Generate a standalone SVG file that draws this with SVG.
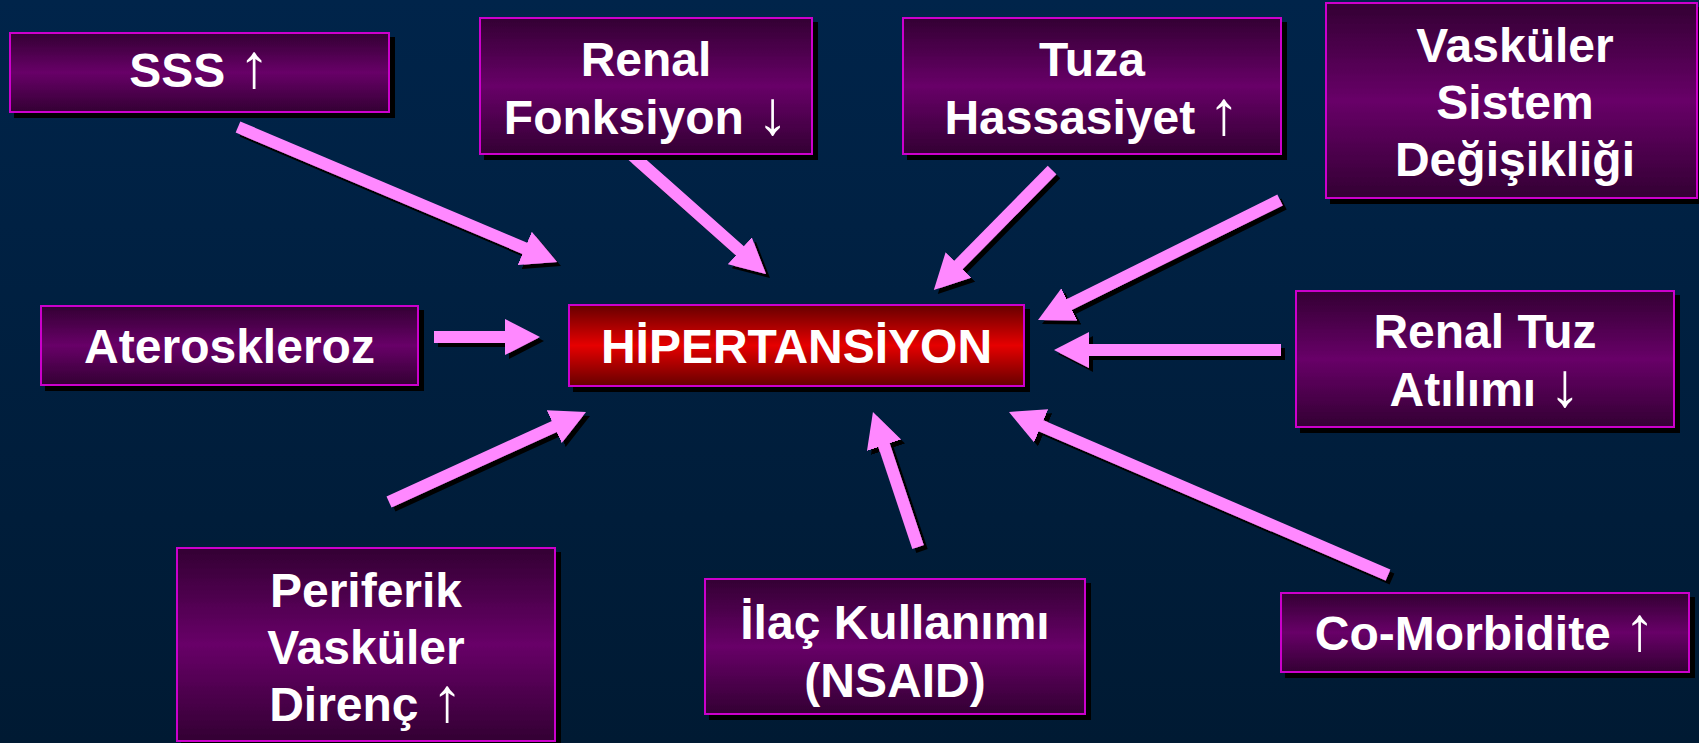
<svg xmlns="http://www.w3.org/2000/svg" width="1699" height="743" viewBox="0 0 1699 743">
<defs>
<style>
.box{fill:url(#purple);stroke:#cc00cc;stroke-width:2;filter:url(#bshadow)}
.red{fill:url(#redg);stroke:#cc00cc;stroke-width:2;filter:url(#bshadow)}
.t{font-family:"Liberation Sans",Arial,sans-serif;font-weight:bold;font-size:48px;fill:#ffffff;text-anchor:middle}
.ar{font-weight:normal;font-size:62px}
.conn{fill:none;stroke:#ff88ff;stroke-width:12;stroke-linecap:butt;marker-end:url(#ah)}
</style>
<linearGradient id="bg" x1="0" y1="0" x2="0" y2="1">
<stop offset="0" stop-color="#00244a"/>
<stop offset="1" stop-color="#001a33"/>
</linearGradient>
<linearGradient id="purple" x1="0" y1="0" x2="0" y2="1">
<stop offset="0" stop-color="#330033"/>
<stop offset="0.5" stop-color="#680068"/>
<stop offset="1" stop-color="#330033"/>
</linearGradient>
<linearGradient id="redg" x1="0" y1="0" x2="0" y2="1">
<stop offset="0" stop-color="#660000"/>
<stop offset="0.5" stop-color="#e60000"/>
<stop offset="1" stop-color="#660000"/>
</linearGradient>
<filter id="bshadow" x="-0.1" y="-0.1" width="1.2" height="1.3">
<feDropShadow dx="5" dy="5" stdDeviation="0" flood-color="#000000" flood-opacity="1"/>
</filter>
<filter id="ashadow" filterUnits="userSpaceOnUse" x="0" y="0" width="1699" height="743">
<feDropShadow dx="4" dy="4" stdDeviation="0" flood-color="#000000" flood-opacity="1"/>
</filter>
<marker id="ah" markerUnits="userSpaceOnUse" markerWidth="35" markerHeight="36" refX="2" refY="18" orient="auto">
<path d="M0,0 L35,18 L0,36 Z" fill="#ff88ff"/>
</marker>
</defs>
<rect x="0" y="0" width="1699" height="743" fill="url(#bg)"/>

<g id="connectors" filter="url(#ashadow)">
<path class="conn" d="M238,127 L526.6,249.1"/>
<path class="conn" d="M632,155 L741.3,252.1"/>
<path class="conn" d="M1052,170 L957,266.4"/>
<path class="conn" d="M1280,200 L1067.6,305.3"/>
<path class="conn" d="M434,337 L507,337"/>
<path class="conn" d="M1281,350 L1087,350"/>
<path class="conn" d="M389,502 L556,425.7"/>
<path class="conn" d="M918,547 L883.4,443.3"/>
<path class="conn" d="M1388,575 L1039.3,425"/>
</g>

<g id="node-sss">
<rect class="box" x="10" y="33" width="379" height="79"/>
<text class="t" x="199.5" y="87">SSS <tspan class="ar">↑</tspan></text>
</g>
<g id="node-renal-fonksiyon">
<rect class="box" x="480" y="18" width="332" height="136"/>
<text class="t" x="646" y="76">Renal</text>
<text class="t" x="646" y="134">Fonksiyon <tspan class="ar">↓</tspan></text>
</g>
<g id="node-tuza">
<rect class="box" x="903" y="18" width="378" height="136"/>
<text class="t" x="1092" y="76">Tuza</text>
<text class="t" x="1092" y="134">Hassasiyet <tspan class="ar">↑</tspan></text>
</g>
<g id="node-vaskuler-sistem">
<rect class="box" x="1326" y="3" width="371" height="195"/>
<text class="t" x="1515" y="62">Vasküler</text>
<text class="t" x="1515" y="119">Sistem</text>
<text class="t" x="1515" y="176">Değişikliği</text>
</g>
<g id="node-ateroskleroz">
<rect class="box" x="41" y="306" width="377" height="79"/>
<text class="t" x="229.5" y="363">Ateroskleroz</text>
</g>
<g id="node-hipertansiyon">
<rect class="red" x="569" y="305" width="455" height="81"/>
<text class="t" x="796.5" y="363">HİPERTANSİYON</text>
</g>
<g id="node-renal-tuz">
<rect class="box" x="1296" y="291" width="378" height="136"/>
<text class="t" x="1485" y="348">Renal Tuz</text>
<text class="t" x="1485" y="406">Atılımı <tspan class="ar">↓</tspan></text>
</g>
<g id="node-periferik">
<rect class="box" x="177" y="548" width="378" height="193"/>
<text class="t" x="366" y="607">Periferik</text>
<text class="t" x="366" y="664">Vasküler</text>
<text class="t" x="366" y="721">Direnç <tspan class="ar">↑</tspan></text>
</g>
<g id="node-ilac">
<rect class="box" x="705" y="579" width="380" height="135"/>
<text class="t" x="895" y="639">İlaç Kullanımı</text>
<text class="t" x="895" y="697">(NSAID)</text>
</g>
<g id="node-comorbidite">
<rect class="box" x="1281" y="593" width="408" height="79"/>
<text class="t" x="1485" y="650">Co-Morbidite <tspan class="ar">↑</tspan></text>
</g>
</svg>
